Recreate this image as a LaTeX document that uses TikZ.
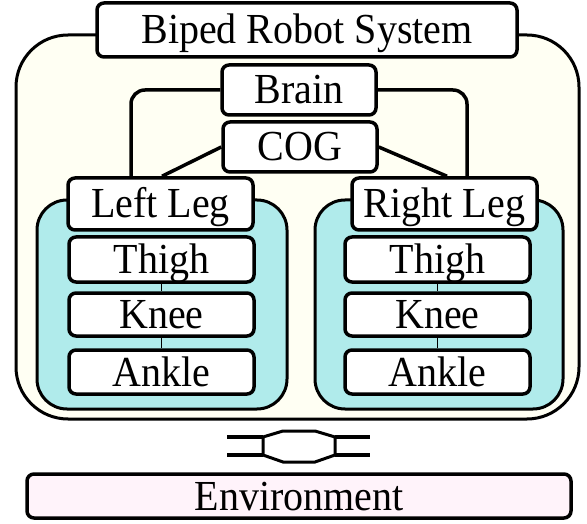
\documentclass[tikz,border=0pt]{standalone}
\usepackage{fontspec}
\setmainfont{Liberation Serif}
\definecolor{cream}{RGB}{255,255,243}
\definecolor{aqua}{RGB}{176,235,235}
\definecolor{pinkish}{RGB}{255,243,250}
\newcommand{\tx}[1]{\scalebox{1}[1.07]{#1}}
\begin{document}
\begin{tikzpicture}[x=1pt,y=-1pt,
  box/.style={draw, line width=3.5pt, rounded corners=7pt, fill=white, inner sep=0pt,
    text height=28pt, text depth=0pt, font=\fontsize{40}{48}\selectfont},
  container/.style={draw, line width=3pt},
  link/.style={line width=3.5pt},
  thinlink/.style={line width=1.8pt},
  bar/.style={line width=4pt}]
\useasboundingbox (0,0) rectangle (587,524);
% outer system container
\draw[container, fill=cream, rounded corners=52pt] (16,35) rectangle (579,419);
\node[box, minimum width=420pt, minimum height=54pt] (sys) at (307,30) {\tx{Biped Robot System}};
% leg containers
\draw[container, fill=aqua, rounded corners=30pt] (37,200) rectangle (287,409);
\draw[container, fill=aqua, rounded corners=30pt] (315,200) rectangle (563,409);
% nodes
\node[box, minimum width=154pt, minimum height=50pt] (brain) at (299,90) {\tx{Brain}};
\node[box, minimum width=154pt, minimum height=50pt] (cog) at (300,147) {\tx{COG}};
\node[box, minimum width=185pt, minimum height=52pt] (ll) at (160.5,204) {\tx{Left Leg}};
\node[box, minimum width=185pt, minimum height=52pt] (rl) at (444.5,204) {\tx{Right Leg}};
\node[box, minimum width=185pt, minimum height=45pt] (lt) at (161.5,259.5) {\tx{Thigh}};
\node[box, minimum width=185pt, minimum height=43pt] (lk) at (161.5,314.5) {\tx{Knee}};
\node[box, minimum width=185pt, minimum height=44pt] (la) at (161.5,372) {\tx{Ankle}};
\node[box, minimum width=185pt, minimum height=45pt] (rt) at (437.5,259.5) {\tx{Thigh}};
\node[box, minimum width=185pt, minimum height=43pt] (rk) at (437.5,314.5) {\tx{Knee}};
\node[box, minimum width=185pt, minimum height=44pt] (ra) at (437.5,372) {\tx{Ankle}};
\node[box, fill=pinkish, minimum width=544pt, minimum height=44pt] (env) at (299,496) {\tx{Environment}};
% connectors
\draw[link, rounded corners=14pt] (brain.west) -| ([xshift=-29.5pt]ll.north);
\draw[link, rounded corners=14pt] (brain.east) -| ([xshift=22.5pt]rl.north);
\draw[link] (cog.west) -- ([xshift=1.5pt]ll.north);
\draw[link] (cog.east) -- ([xshift=2.5pt]rl.north);
\draw[thinlink] (lt.south) -- (lk.north);
\draw[thinlink] (lk.south) -- (la.north);
\draw[thinlink] (rt.south) -- (rk.north);
\draw[thinlink] (rk.south) -- (ra.north);
% interaction symbol
\draw[bar] (227,437) -- (263,437);
\draw[bar] (227,455) -- (263,455);
\draw[bar] (335,437) -- (370,437);
\draw[bar] (335,455) -- (370,455);
\draw[line width=3pt, fill=white] (263,437) -- (283,431) -- (315,431) -- (335,437) -- (335,455) -- (315,462) -- (283,462) -- (263,455) -- cycle;
\end{tikzpicture}
\end{document}
